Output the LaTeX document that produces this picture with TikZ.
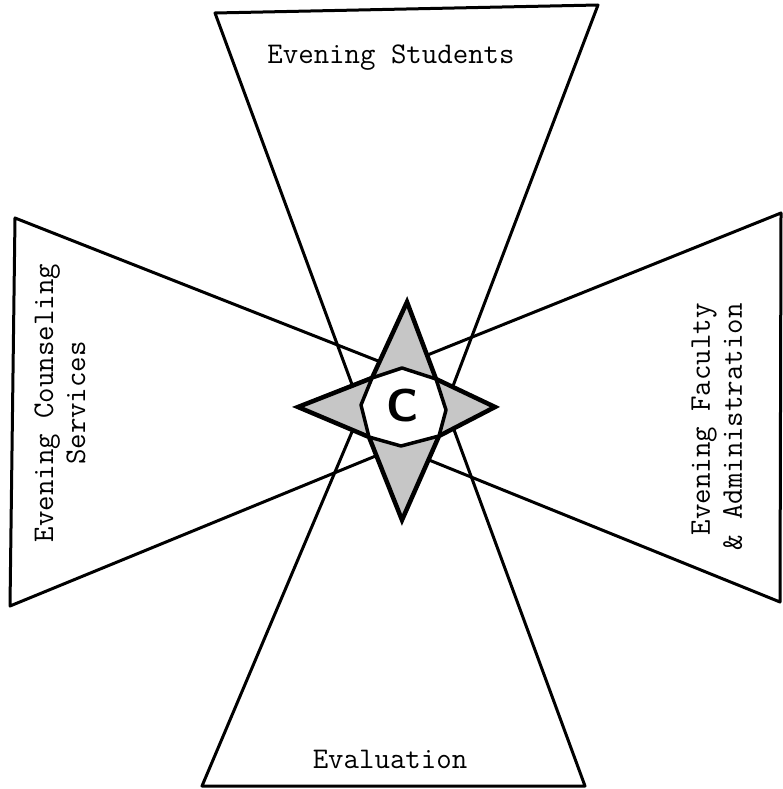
\documentclass[tikz,border=0pt]{standalone}
\usepackage{fontspec}
\usepackage{tikz}
\usetikzlibrary{calc}

\begin{document}
\begin{tikzpicture}[x=1pt,y=-1pt,
    arm/.style={line width=3pt,line join=round,line cap=round},
    typed/.style={font=\fontsize{30}{32}\selectfont\ttfamily\addfontfeatures{FakeBold=1.2},inner sep=0pt},
    spike/.style={line width=4.5pt,line join=miter,fill=gray!45},
    hub/.style={line width=3.5pt,line join=round,fill=white}]
    \useasboundingbox (0,0) rectangle (782,789);
    % star tips and inner corners
    \coordinate (tipN) at (407,302);
    \coordinate (tipS) at (402,520);
    \coordinate (tipW) at (298,407);
    \coordinate (tipE) at (495,407);
    \coordinate (cNE) at (436,379);
    \coordinate (cSE) at (439,436);
    \coordinate (cSW) at (369,437);
    \coordinate (cNW) at (372,378);
    % arms
    \draw[arm] (215,13) -- (598,5) -- (tipS) -- cycle;
    \draw[arm] (202,786) -- (585,786) -- (tipN) -- cycle;
    \draw[arm] (15,218) -- (10,606) -- (tipE) -- cycle;
    \draw[arm] (781,213) -- (780,602) -- (tipW) -- cycle;
    % star and hub
    \draw[spike] (tipN) -- (cNE) -- (tipE) -- (cSE) -- (tipS) -- (cSW) -- (tipW) -- (cNW) -- cycle;
    \draw[hub] (cNW) -- (402,368) -- (cNE) -- (446,410) -- (cSE) -- (401,446) -- (cSW) -- (361,405) -- cycle;
    \node[font=\fontsize{46}{46}\selectfont\sffamily\bfseries,inner sep=0pt] (hubC) at (403,406) {C};
    % labels
    \node[typed] (students) at (391,58) {Evening Students};
    \node[typed] (evaluation) at (390,759) {Evaluation};
    \node[typed,rotate=90,align=center] (counseling) at (60,403) {Evening Counseling\\Services};
    \node[typed,rotate=90,align=right] (faculty) at (717,427) {Evening Faculty\\\& Administration};
\end{tikzpicture}
\end{document}
